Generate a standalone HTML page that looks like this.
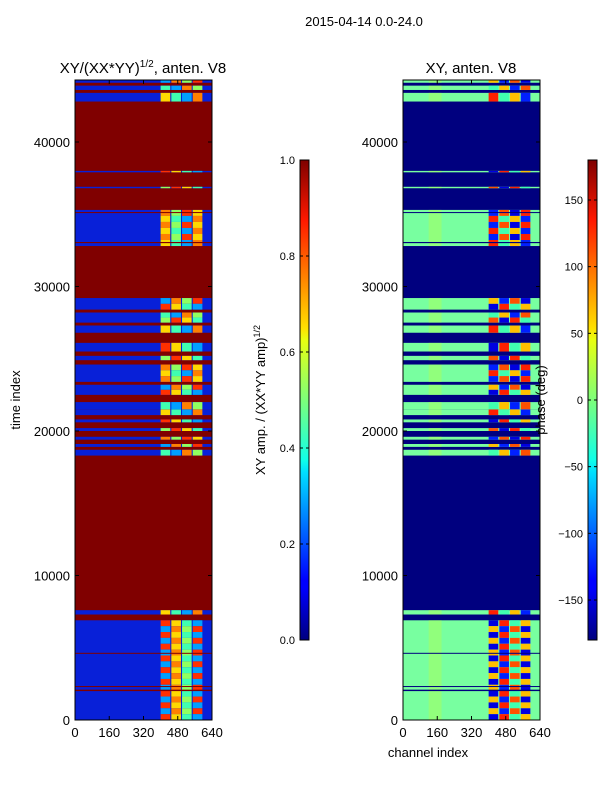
<!DOCTYPE html>
<html><head><meta charset="utf-8"><style>
body{margin:0;background:#fff;}
svg text{font-family:"Liberation Sans",sans-serif;fill:#000;}
</style></head><body>
<svg id="fig" width="600" height="800" xmlns="http://www.w3.org/2000/svg">
<defs>
<linearGradient id="jet" x1="0" y1="1" x2="0" y2="0">
<stop offset="0" stop-color="#00007f"/><stop offset="0.11" stop-color="#0000ff"/><stop offset="0.125" stop-color="#0000ff"/>
<stop offset="0.35" stop-color="#00e0ff"/><stop offset="0.375" stop-color="#10ffe8"/><stop offset="0.5" stop-color="#7dff7a"/>
<stop offset="0.625" stop-color="#e8ff10"/><stop offset="0.65" stop-color="#ffe000"/><stop offset="0.875" stop-color="#ff1800"/><stop offset="1" stop-color="#7f0000"/>
</linearGradient>
</defs>
<text x="364" y="26" font-size="13" text-anchor="middle">2015-04-14 0.0-24.0</text>
<text x="143" y="73" font-size="15" text-anchor="middle">XY/(XX*YY)<tspan font-size="10" dy="-6">1/2</tspan><tspan dy="6">, anten. V8</tspan></text>
<text x="471" y="73" font-size="15" text-anchor="middle">XY, anten. V8</text>
<text transform="translate(20,400) rotate(-90)" font-size="13" text-anchor="middle">time index</text>
<text x="428" y="757" font-size="13" text-anchor="middle">channel index</text>
<text transform="translate(265,400) rotate(-90)" font-size="13" text-anchor="middle">XY amp. / (XX*YY amp)<tspan font-size="9" dy="-5">1/2</tspan></text>
<g id="left"></g>
<g id="right"></g>
<text transform="translate(545,400) rotate(-90)" font-size="13" text-anchor="middle">phase (deg)</text>
<g id="cbars"></g>
</svg>
<script>
const dataBands=[[0,6900],[7300,7600],[18300,18700],[18900,19100],[19400,19600],[20000,20200],[20600,20800],[21100,21500],[21500,22000],[22500,23200],[23400,24600],[24900,25200],[25500,26100],[26800,27300],[27500,28200],[28400,29200],[32800,35300],[36800,36900],[37900,38000],[42800,43400],[43600,43900],[44100,44300]];
const flagLines=[[2000,2100],[2300,2350],[4600,4650],[33000,33080],[35100,35150]];
const leftBlock=["#ff3000","#ffd800","#40ffb0","#00a0ff","#ff8000","#90ff60"];
const rightBlock=["#0000e0","#ff2000","#40ffb0","#ffc000","#0020ff","#ff5000"];
const xTicks=[0,160,320,480,640];
const yTicks=[0,10000,20000,30000,40000];
const ampTicks=[0.0,0.2,0.4,0.6,0.8,1.0];
const phaseTicks=[-150,-100,-50,0,50,100,150];
const NS="http://www.w3.org/2000/svg";
const Y0=720,Y1=80,TMAX=44290;
const yS=t=>Y0-(t/TMAX)*(Y0-Y1);
function mk(tag,at,p){const e=document.createElementNS(NS,tag);for(const k in at)e.setAttribute(k,at[k]);p.appendChild(e);return e;}
function panel(g,x0,bgFlag,bgData,block,isLeft){
  const xS=c=>x0+c/640*137;
  mk('rect',{x:x0,y:Y1,width:137,height:640,fill:bgFlag},g);
  dataBands.forEach((b,i)=>{
    const ya=yS(b[1]),yb=yS(b[0]);
    const r=mk('rect',{x:x0,y:ya,width:137,height:Math.max(1,yb-ya),fill:bgData},g);
    
    
    if(!isLeft){mk('rect',{x:xS(120),y:ya,width:xS(180)-xS(120),height:Math.max(1,yb-ya),fill:'#b0ff50',opacity:0.45},g);}
    const h=yb-ya, n=Math.max(1,Math.round(h/6));
    for(let k=0;k<n;k++){
      for(let c=0;c<4;c++){
        const col=block[(i+k*3+c)%block.length];
        const cell=mk('rect',{x:xS(400+c*50),y:ya+k*h/n,width:xS(445)-xS(400),height:h/n,fill:col},g);
        
        
      }
    }
  });
  flagLines.forEach(f=>{const ya=yS(f[1]),yb=yS(f[0]);mk('rect',{x:x0,y:ya,width:137,height:Math.max(1,yb-ya),fill:bgFlag},g);});
  mk('rect',{x:x0,y:Y1,width:137,height:640,fill:'none',stroke:'#000','stroke-width':1},g);
  xTicks.forEach(v=>{const x=xS(v);mk('line',{x1:x,x2:x,y1:Y0,y2:Y0-4,stroke:'#000'},g);mk('line',{x1:x,x2:x,y1:Y1,y2:Y1+4,stroke:'#000'},g);
    const t=mk('text',{x:x,y:737,'font-size':13,'text-anchor':'middle'},g);t.textContent=v;});
  yTicks.forEach(v=>{const y=yS(v);mk('line',{x1:x0,x2:x0+4,y1:y,y2:y,stroke:'#000'},g);mk('line',{x1:x0+133,x2:x0+137,y1:y,y2:y,stroke:'#000'},g);
    const t=mk('text',{x:x0-5,y:y+5,'font-size':13,'text-anchor':'end'},g);t.textContent=v;});
}
panel(document.getElementById('left'),75,'#800000','#0820d8',leftBlock,true);
panel(document.getElementById('right'),403,'#00007f','#78ffa0',rightBlock,false);
function cbar(x,ticks,lo,hi,fmt,name){
  const g=document.getElementById('cbars');
  const b=mk('rect',{x:x,y:160,width:9,height:480,fill:'url(#jet)',stroke:'#000','stroke-width':1},g);
  
  
  ticks.forEach(v=>{const y=640-(v-lo)/(hi-lo)*480;mk('line',{x1:x,x2:x+3,y1:y,y2:y,stroke:'#000'},g);mk('line',{x1:x+6,x2:x+9,y1:y,y2:y,stroke:'#000'},g);
    const t=mk('text',{x:x-5,y:y+4,'font-size':11,'text-anchor':'end'},g);t.textContent=fmt(v);});
}
cbar(300,ampTicks,0,1,v=>v.toFixed(1),'amplitude-colorbar');
cbar(588,phaseTicks,-180,180,v=>v<0?'\u2212'+(-v):String(v),'phase-colorbar');
</script>
</body></html>
